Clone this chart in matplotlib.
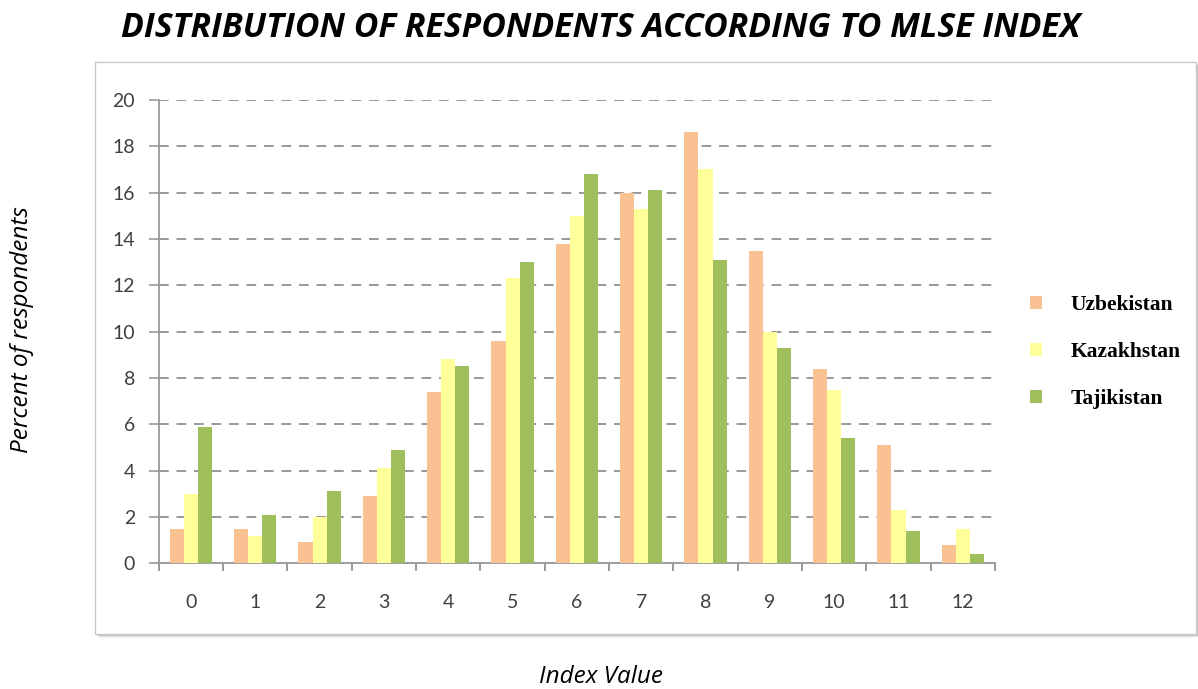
import matplotlib
matplotlib.use("Agg")
import matplotlib.pyplot as plt
import matplotlib.patches as patches
import numpy as np

categories = ["0", "1", "2", "3", "4", "5", "6", "7", "8", "9", "10", "11", "12"]
uzbekistan = [1.5, 1.5, 0.9, 2.9, 7.4, 9.6, 13.8, 16.0, 18.6, 13.5, 8.4, 5.1, 0.8]
kazakhstan = [3.0, 1.2, 2.0, 4.1, 8.8, 12.3, 15.0, 15.3, 17.0, 10.0, 7.5, 2.3, 1.5]
tajikistan = [5.9, 2.1, 3.1, 4.9, 8.5, 13.0, 16.8, 16.1, 13.1, 9.3, 5.4, 1.4, 0.4]
series_names = ["Uzbekistan", "Kazakhstan", "Tajikistan"]
colors = ["#FAC292", "#FFFF99", "#9FBF5C"]
yticks = [0, 2, 4, 6, 8, 10, 12, 14, 16, 18, 20]

W, H = 1198, 689
fig = plt.figure(figsize=(W / 100, H / 100), dpi=100)
fig.patch.set_facecolor("white")

# chart frame with shadow
fx0, fx1, fy0, fy1 = 95, 1196, 62, 634
for i, a in enumerate([0.04, 0.07, 0.11, 0.16]):
    off = 4 - i
    fig.patches.append(patches.Rectangle(((fx0 + off) / W, 1 - (fy1 + off) / H), (fx1 - fx0) / W, (fy1 - fy0) / H,
                                         transform=fig.transFigure, facecolor="black", alpha=a,
                                         edgecolor="none", zorder=0))
fig.patches.append(patches.Rectangle((fx0 / W, 1 - fy1 / H), (fx1 - fx0) / W, (fy1 - fy0) / H,
                                     transform=fig.transFigure, facecolor="white",
                                     edgecolor="#C8C8C8", linewidth=1.0, zorder=1))

ax = fig.add_axes([158.7 / W, 1 - 563.3 / H, (995 - 158.7) / W, (563.3 - 100) / H])
ax.set_facecolor("none")
ax.set_zorder(2)

x = np.arange(len(categories))
bw = 0.218
for k, (vals, name, c) in enumerate(zip([uzbekistan, kazakhstan, tajikistan], series_names, colors)):
    ax.bar(x + (k - 1) * bw, vals, width=bw, color=c, label=name, zorder=3, linewidth=0)

ax.set_xlim(-0.5, len(categories) - 0.5)
ax.set_ylim(0, 20)
ax.set_yticks(yticks)
ax.set_yticklabels([str(v) for v in yticks], fontsize=14, color="#404040", family="Lato")
ax.set_xticks(x)
ax.set_xticklabels(categories, fontsize=14, color="#404040", family="Lato")
ax.set_xticks(np.arange(-0.5, len(categories), 1.0), minor=True)
ax.tick_params(axis="x", which="major", length=0, pad=22)
ax.tick_params(axis="x", which="minor", length=6, color="#888888", width=1.2)
ax.tick_params(axis="y", which="major", length=7, color="#999999", width=1.2, pad=10)
ax.grid(axis="y", color="#999999", linestyle=(0, (5, 4)), linewidth=1.4, zorder=1)
ax.set_axisbelow(True)
for s in ["top", "right"]:
    ax.spines[s].set_visible(False)
for s in ["left", "bottom"]:
    ax.spines[s].set_color("#999999")
    ax.spines[s].set_linewidth(1.3)

leg = ax.legend(loc="center left", bbox_to_anchor=(1011 / W, 1 - 352 / H), bbox_transform=fig.transFigure,
                frameon=False, handlelength=0.55, handleheight=0.55, handletextpad=1.3, labelspacing=1.25,
                prop={"family": "Liberation Serif", "weight": "bold", "size": 15.5})

fig.text(601 / W, 1 - 28 / H, "DISTRIBUTION OF RESPONDENTS ACCORDING TO MLSE INDEX",
         ha="center", va="center", fontsize=24.3, fontweight="bold", fontstyle="italic", family="Open Sans", color="black")
fig.text(22 / W, 1 - 330 / H, "Percent of respondents", rotation=90, ha="center", va="center",
         fontsize=17.5, fontstyle="italic", family="Open Sans", color="black")
fig.text(601 / W, 1 - 677 / H, "Index Value", ha="center", va="center",
         fontsize=17.5, fontstyle="italic", family="Open Sans", color="black")

fig.savefig("out.png", dpi=100, facecolor="white")
